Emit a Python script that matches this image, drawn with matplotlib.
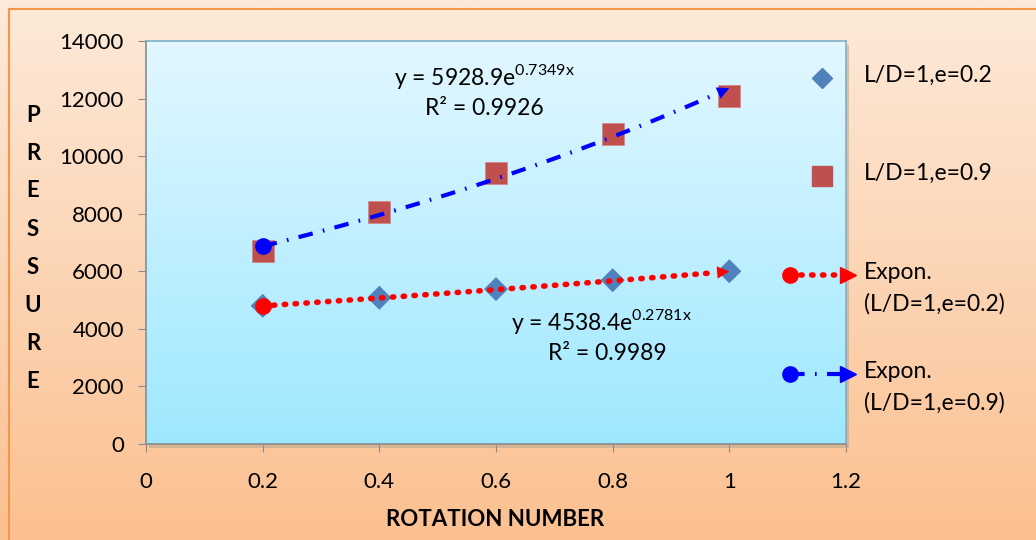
import numpy as np
import matplotlib
matplotlib.use("Agg")
import matplotlib.pyplot as plt
from matplotlib.lines import Line2D
from matplotlib.patches import Rectangle

plt.rcParams['font.family'] = ['Lato', 'DejaVu Sans']
plt.rcParams['mathtext.fontset'] = 'custom'
plt.rcParams['mathtext.rm'] = 'Lato'

# ---- data ----
rotation = [0.2, 0.4, 0.6, 0.8, 1.0]
p_e02 = [4800, 5080, 5380, 5690, 6000]
p_e09 = [6700, 8060, 9430, 10780, 12100]
fit_e02 = (4538.4, 0.2781, 0.9989)
fit_e09 = (5928.9, 0.7349, 0.9926)
labels = ['L/D=1,e=0.2', 'L/D=1,e=0.9', 'Expon.\n(L/D=1,e=0.2)', 'Expon.\n(L/D=1,e=0.9)']
xticks = [0, 0.2, 0.4, 0.6, 0.8, 1, 1.2]
xticklabels = ['0', '0.2', '0.4', '0.6', '0.8', '1', '1.2']
yticks = [0, 2000, 4000, 6000, 8000, 10000, 12000, 14000]

W, H = 1036, 540
fig = plt.figure(figsize=(W / 100, H / 100), dpi=100)

# background gradient
bg = fig.add_axes([0, 0, 1, 1], zorder=-10)
g = np.linspace(0, 1, 256).reshape(-1, 1)
c_top = np.array([253, 234, 218]) / 255
c_bot = np.array([251, 192, 144]) / 255
img = c_top + (c_bot - c_top) * g[:, :, None]
bg.imshow(img, aspect='auto', extent=[0, 1, 0, 1], origin='upper')
bg.set_xlim(0, 1); bg.set_ylim(0, 1)
bg.axis('off')
bg.add_patch(Rectangle((9 / W, -0.01), 1.0, 1 - 9 / H + 0.01, fill=False,
                       edgecolor='#F79646', lw=1.5))

l, r, b, t = 146 / W, 846 / W, 1 - 444 / H, 1 - 41 / H
# shadow
bg.add_patch(Rectangle((l + 3 / W, b - 4 / H), r - l, t - b, facecolor='#b0a090',
                       alpha=0.5, edgecolor='none'))

ax = fig.add_axes([l, b, r - l, t - b])
pg = np.linspace(0, 1, 256).reshape(-1, 1)
p_top = np.array([226, 247, 255]) / 255
p_bot = np.array([158, 232, 255]) / 255
pimg = p_top + (p_bot - p_top) * pg[:, :, None]
ax.imshow(pimg, aspect='auto', extent=[0, 1, 0, 1], transform=ax.transAxes,
          origin='upper', zorder=0)
ax.set_aspect('auto')
ax.set_xlim(0, 1.2)
ax.set_ylim(0, 14000)

for s in ax.spines.values():
    s.set_color('#7fb0c8')
    s.set_linewidth(1.2)
ax.spines['left'].set_color('#8c8c8c')
ax.spines['bottom'].set_color('#8c8c8c')

ax.set_xticks(xticks)
ax.set_xticklabels(xticklabels)
ax.set_yticks(yticks)
ax.tick_params(axis='both', direction='out', length=6, color='#8c8c8c',
               labelsize=16, labelcolor='black')
ax.tick_params(axis='x', pad=14)
ax.tick_params(axis='y', pad=10)

# data markers
ax.scatter(rotation, p_e02, marker='D', s=150, color='#4F81BD', zorder=3,
           edgecolors='none')
ax.scatter(rotation, p_e09, marker='s', s=250, color='#C0504D', zorder=3,
           edgecolors='#d98080', linewidths=0.5)

RED_LS = (0, (0.25, 1.7))
BLUE_LS = (0, (3.5, 2.5, 0.4, 2.5))

# trendlines
xs = np.linspace(rotation[0], rotation[-1], 100)
def trend(fit, color, ls, lw, cap):
    a, k, _ = fit
    ys = a * np.exp(k * xs)
    ax.plot(xs[:-3], ys[:-3], color=color, lw=lw, ls=ls, zorder=4,
            dash_capstyle=cap)
    ax.plot([xs[0]], [ys[0]], 'o', color=color, ms=11, zorder=5)
    ax.annotate('', xy=(xs[-1], ys[-1]), xytext=(xs[-6], ys[-6]),
                arrowprops=dict(arrowstyle='-|>', color=color, lw=0,
                                mutation_scale=22, shrinkA=0, shrinkB=0),
                zorder=5)

trend(fit_e02, '#FF0000', RED_LS, 4, 'round')
trend(fit_e09, '#0000FF', BLUE_LS, 3, 'butt')

# equations
ax.text(0.58, 12750, r'y = %.1fe$^{\mathrm{%.4fx}}$' % (fit_e09[0], fit_e09[1]),
        ha='center', va='center', fontsize=16.5)
ax.text(0.58, 11670, 'R² = %.4f' % fit_e09[2], ha='center', va='center', fontsize=16.5)
ax.text(0.78, 4240, r'y = %.1fe$^{\mathrm{%.4fx}}$' % (fit_e02[0], fit_e02[1]),
        ha='center', va='center', fontsize=16.5)
ax.text(0.79, 3160, 'R² = %.4f' % fit_e02[2], ha='center', va='center', fontsize=16.5)

# axis labels
fig.text(495 / W, 1 - 520 / H, 'ROTATION NUMBER', ha='center', va='center',
         fontsize=16, fontweight='bold')
for i, ch in enumerate('PRESSURE'):
    fig.text(33 / W, 1 - (115 + i * 38) / H, ch, ha='center', va='center',
             fontsize=16, fontweight='bold')

# legend (manual)
def fx(px): return px / W
def fy(py): return 1 - py / H
fig.add_artist(Line2D([fx(822)], [fy(78)], marker='D', ms=10, color='#4F81BD', ls='none'))
fig.add_artist(Line2D([fx(822)], [fy(176)], marker='s', ms=14, color='#C0504D', ls='none'))
for py, color, ls, lw, cap in [(275, '#FF0000', RED_LS, 4, 'round'),
                               (374, '#0000FF', BLUE_LS, 3, 'butt')]:
    fig.add_artist(Line2D([fx(790), fx(845)], [fy(py), fy(py)], color=color, lw=lw, ls=ls,
                          dash_capstyle=cap))
    fig.add_artist(Line2D([fx(790)], [fy(py)], marker='o', ms=11, color=color, ls='none'))
    fig.add_artist(Line2D([fx(848)], [fy(py)], marker='>', ms=12, color=color, ls='none'))
ys_leg = [78, 176, 275, 374]
for lab, py in zip(labels, ys_leg):
    fig.text(fx(864), fy(py - 13), lab, ha='left', va='top', fontsize=16.5,
             linespacing=1.55)

fig.savefig('out.png', dpi=100)
